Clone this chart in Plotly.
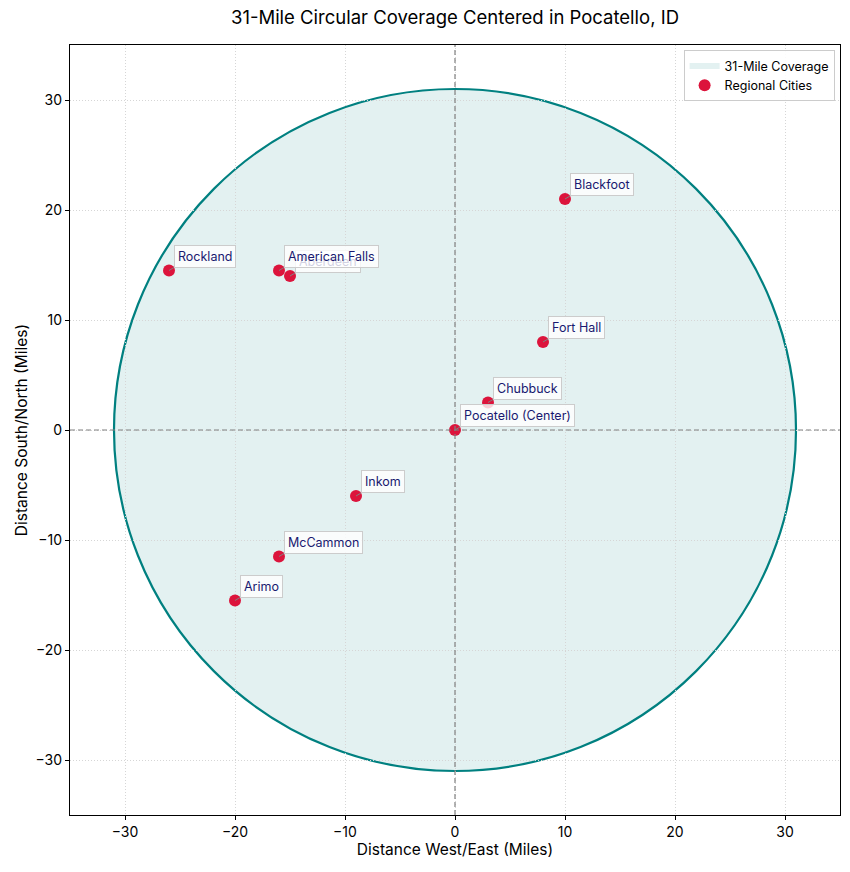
import plotly.graph_objects as go

RADIUS = 31
CITIES = ["Pocatello (Center)", "Chubbuck", "Fort Hall", "Blackfoot", "Aberdeen",
          "American Falls", "Rockland", "Inkom", "McCammon", "Arimo"]
X_MILES = [0, 3, 8, 10, -15, -16, -26, -9, -16, -20]
Y_MILES = [0, 2.5, 8, 21, 14, 14.5, 14.5, -6, -11.5, -15.5]
TICKS = [-30, -20, -10, 0, 10, 20, 30]

FONT = "Inter, Noto Sans, sans-serif"
TEAL = "#008080"
FILL = "rgba(0,128,128,0.11)"

fig = go.Figure()

# coverage circle drawn as a shape
fig.add_shape(type="circle", xref="x", yref="y",
              x0=-RADIUS, y0=-RADIUS, x1=RADIUS, y1=RADIUS,
              line=dict(color=TEAL, width=2.2),
              fillcolor=FILL, layer="below")

# legend-only entry for the coverage patch
fig.add_trace(go.Scatter(x=[None], y=[None], mode="none", fill="toself",
                         fillcolor=FILL, name="31-Mile Coverage",
                         line=dict(color="rgba(0,128,128,0.2)", width=1)))

fig.add_vline(x=0, line=dict(color="gray", width=1.2, dash="5px,3px"))
fig.add_hline(y=0, line=dict(color="gray", width=1.2, dash="5px,3px"))

fig.add_trace(go.Scatter(x=X_MILES, y=Y_MILES, mode="markers", name="Regional Cities",
                         marker=dict(color="#DC143C", size=12, line=dict(width=0)),
                         hovertext=CITIES))

for name, x, y in zip(CITIES, X_MILES, Y_MILES):
    fig.add_annotation(x=x, y=y, xref="x", yref="y", text=name,
                       showarrow=True, ax=5, ay=-3, axref="pixel", ayref="pixel",
                       xanchor="left", yanchor="bottom",
                       arrowhead=0, arrowwidth=1, arrowcolor="gray",
                       font=dict(family=FONT, size=12.5, color="#191970"),
                       bgcolor="rgba(255,255,255,0.8)", bordercolor="#cccccc",
                       borderwidth=1, borderpad=3)

axis_common = dict(range=[-35, 35], tickvals=TICKS, showgrid=True,
                   gridcolor="#d6d6d6", griddash="1px,2px", gridwidth=1,
                   zeroline=False, showline=True, linecolor="black", linewidth=1.2,
                   mirror=True, ticks="outside", ticklen=4, tickcolor="black",
                   automargin=False,
                   tickfont=dict(family=FONT, size=14, color="black"))

W, H = 842, 864
fig.update_layout(
    width=W, height=H,
    margin=dict(l=62, r=10, t=37, b=57),
    paper_bgcolor="white", plot_bgcolor="white",
    title=dict(text="31-Mile Circular Coverage Centered in Pocatello, ID",
               x=0.5, xanchor="center", xref="paper", y=1 - 10 / H, yanchor="middle",
               font=dict(family=FONT, size=18.5, color="black")),
    xaxis=dict(title=dict(text="Distance West/East (Miles)", font=dict(family=FONT, size=15.5, color="black"), standoff=4),
               **axis_common),
    yaxis=dict(title=dict(text="Distance South/North (Miles)", font=dict(family=FONT, size=15.5, color="black"), standoff=4),
               **axis_common),
    legend=dict(x=0.993, y=0.993, xanchor="right", yanchor="top",
                bgcolor="rgba(255,255,255,0.9)", bordercolor="#cccccc", borderwidth=1,
                font=dict(family=FONT, size=12.5, color="black"),
                traceorder="normal"),
    showlegend=True,
)

fig.write_html("out.html")
